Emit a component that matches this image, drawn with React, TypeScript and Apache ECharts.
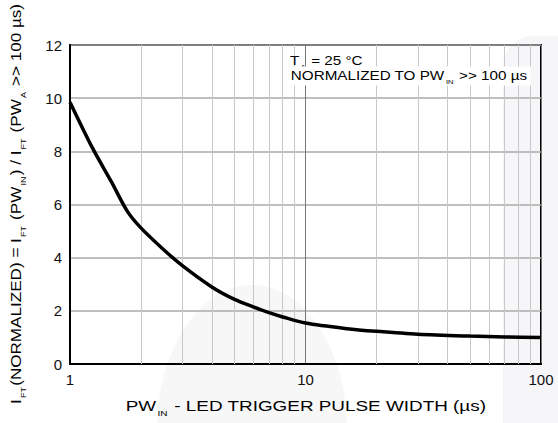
import React, { useEffect, useRef } from "react";
import * as echarts from "echarts";

const pulseWidth = [1, 1.25, 1.5, 1.75, 2, 2.5, 3, 4, 5, 6, 7, 8, 10, 15, 20, 30, 50, 70, 100];
const ftNormalized = [9.85, 8.1, 6.85, 5.75, 5.12, 4.3, 3.7, 2.9, 2.43, 2.15, 1.93, 1.77, 1.54, 1.33, 1.23, 1.12, 1.05, 1.02, 1.0];
const minorGridX = [2, 3, 4, 5, 6, 7, 8, 9, 20, 30, 40, 50, 60, 70, 80, 90];
const yTicks = { min: 0, max: 12, interval: 2 };
const xRange = { min: 1, max: 100 };
const xTitle = "{n|PW}{s|IN}{n| - LED TRIGGER PULSE WIDTH (µs)}";
const yTitle = "{n|I}{s|FT}{n|(NORMALIZED) = I}{s|FT}{n| (PW}{s|IN}{n|) / I}{s|FT}{n| (PW}{s|A}{n| >> 100 µs)}";
const noteLine1 = "{n|T}{s|A}{n| = 25 °C}";
const noteLine2 = "{n|NORMALIZED TO PW}{s|IN}{n| >> 100 µs}";

const FONT = "'Liberation Sans', Arial, sans-serif";

export default function App() {
  const ref = useRef<HTMLDivElement>(null);
  useEffect(() => {
    if (!ref.current) return;
    const chart = echarts.init(ref.current, undefined, { renderer: "svg" });
    const rich: any = {
      n: { fontSize: 15, fontFamily: FONT, color: "#111", lineHeight: 23, verticalAlign: "middle" },
      s: { fontSize: 8, fontFamily: FONT, color: "#111", lineHeight: 23, verticalAlign: "bottom", padding: [0, 1, 0, 1] },
    };
    const richSmall: any = {
      n: { fontSize: 12, fontFamily: FONT, color: "#111", lineHeight: 17, verticalAlign: "middle" },
      s: { fontSize: 6, fontFamily: FONT, color: "#111", lineHeight: 17, verticalAlign: "bottom", padding: [0, 1, 0, 1] },
    };
    chart.setOption({
      animation: false,
      backgroundColor: "#fff",
      textStyle: { fontFamily: FONT },
      grid: { left: 70, right: 17, top: 45, bottom: 59, show: true, borderColor: "#000", borderWidth: 2, backgroundColor: "transparent" },
      graphic: [
        { type: "ellipse", z: -100, shape: { cx: 252, cy: 430, rx: 95, ry: 145 }, style: { fill: "#f7f7f7" }, silent: true },
        { type: "rect", z: -100, shape: { x: 503, y: 36, width: 55, height: 387, r: [30, 0, 0, 0] }, style: { fill: "#f6f5f8" }, silent: true },
        {
          type: "text", z: 100, x: 290, y: 61, scaleX: 1.27,
          style: { text: noteLine1, rich: richSmall, align: "left", verticalAlign: "middle" },
        },
        {
          type: "text", z: 100, x: 287, y: 76, scaleX: 1.27,
          style: {
            text: noteLine2, rich: richSmall, align: "left", verticalAlign: "middle",
            backgroundColor: "#fff", padding: [1, 3, 1, 3],
          },
        },
        {
          type: "text", z: 60, x: 306, y: 406, scaleX: 1.26,
          style: { text: xTitle, rich, align: "center", verticalAlign: "middle" },
        },
        {
          type: "text", z: 60, x: 15.5, y: 204, rotation: Math.PI / 2, scaleX: 1.14,
          style: { text: yTitle, rich, align: "center", verticalAlign: "middle" },
        },
      ],
      xAxis: {
        type: "log",
        logBase: 10,
        min: xRange.min,
        max: xRange.max,
        axisLine: { lineStyle: { color: "#000", width: 2 } },
        axisTick: { show: false },
        axisLabel: { fontSize: 15, color: "#111", fontFamily: FONT, margin: 8 },
        splitLine: { show: true, lineStyle: { color: "#777", width: 1 } },
        minorTick: { show: false },
        minorSplitLine: { show: false },
      },
      yAxis: {
        type: "value",
        min: yTicks.min,
        max: yTicks.max,
        interval: yTicks.interval,
        axisLine: { lineStyle: { color: "#000", width: 2 } },
        axisTick: { show: false },
        axisLabel: { fontSize: 15, color: "#111", fontFamily: FONT, margin: 8 },
        splitLine: { show: true, lineStyle: { color: "#aaa", width: 1.5 } },
      },
      series: [
        {
          type: "line",
          data: pulseWidth.map((x, i) => [x, ftNormalized[i]]),
          smooth: 0.3,
          showSymbol: false,
          lineStyle: { color: "#000", width: 3.5 },
          z: 10,
          markLine: {
            silent: true,
            symbol: ["none", "none"],
            label: { show: false },
            lineStyle: { color: "#c8c8c8", width: 1, type: "solid" },
            z: 1,
            data: minorGridX.map((v) => ({ xAxis: v })),
          },
        },
      ],
    });
    return () => chart.dispose();
  }, []);
  return <div ref={ref} style={{ width: 558, height: 423, position: "absolute", left: 0, top: 0 }} />;
}
